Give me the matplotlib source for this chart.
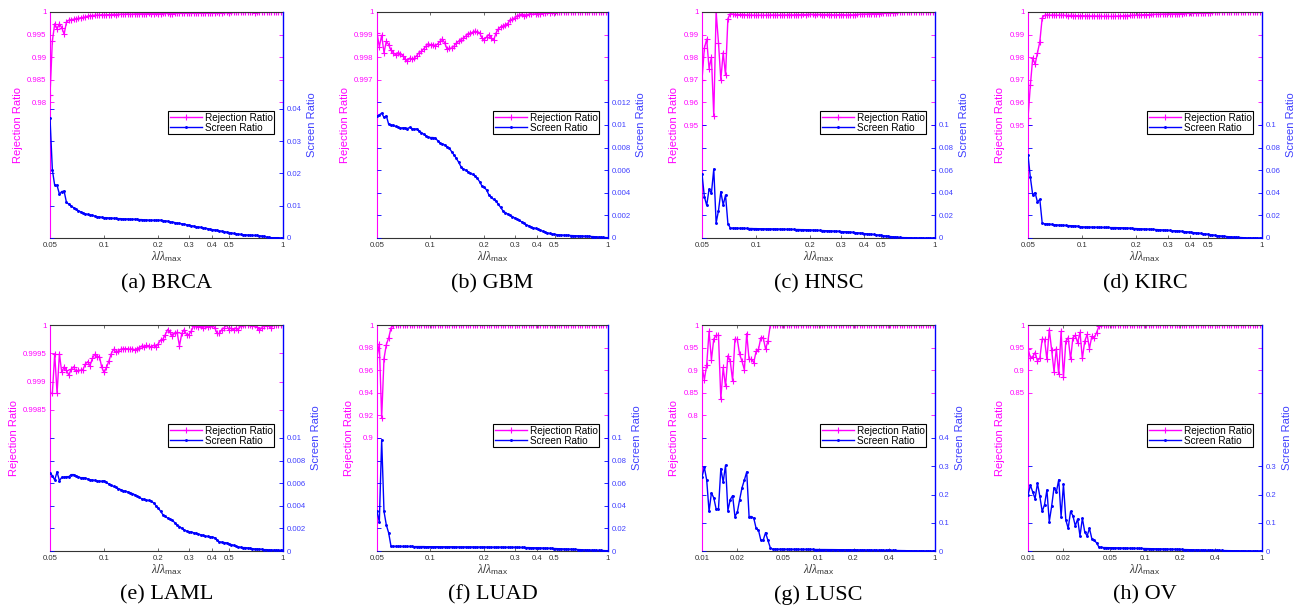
import numpy as np
import matplotlib
matplotlib.use('Agg')
import matplotlib.pyplot as plt
from matplotlib.ticker import NullLocator

plt.rcParams['font.family'] = ['Liberation Sans', 'DejaVu Sans']
plt.rcParams['mathtext.fontset'] = 'custom'
plt.rcParams['mathtext.rm'] = 'Liberation Sans'
plt.rcParams['mathtext.it'] = 'Liberation Serif:italic'

# ---------------- data ----------------
names = ['(a) BRCA', '(b) GBM', '(c) HNSC', '(d) KIRC',
         '(e) LAML', '(f) LUAD', '(g) LUSC', '(h) OV']

lam_a = np.geomspace(0.05, 1.0, 100)   # lambda / lambda_max grid, panels a-f
lam_g = np.geomspace(0.01, 1.0, 100)   # lambda / lambda_max grid, panels g-h

xt_a = [0.05, 0.1, 0.2, 0.3, 0.4, 0.5, 1]
xtl_a = ['0.05', '0.1', '0.2', '0.3', '0.4', '0.5', '1']
xt_g = [0.01, 0.02, 0.05, 0.1, 0.2, 0.4, 1]
xtl_g = ['0.01', '0.02', '0.05', '0.1', '0.2', '0.4', '1']

brca_rej = [0.9816, 0.9936, 0.9974, 0.9963, 0.9974, 0.9965, 0.9951, 0.9978, 0.9982, 0.9983,
            0.9984, 0.9985, 0.9986, 0.9987, 0.9988, 0.9989, 0.9991, 0.9992, 0.9992, 0.9993,
            0.9993, 0.9993, 0.9994, 0.9993, 0.9994, 0.9994, 0.9994, 0.9995, 0.9994, 0.9995,
            0.9995, 0.9995, 0.9995, 0.9996, 0.9995, 0.9995, 0.9996, 0.9996, 0.9996, 0.9996,
            0.9996, 0.9996, 0.9997, 0.9996, 0.9996, 0.9997, 0.9996, 0.9996, 0.9997, 0.9997,
            0.9997, 0.9996, 0.9996, 0.9997, 0.9997, 0.9997, 0.9997, 0.9998, 0.9997, 0.9997,
            0.9998, 0.9997, 0.9998, 0.9998, 0.9998, 0.9998, 0.9998, 0.9998, 0.9998, 0.9998,
            0.9998, 0.9999, 0.9998, 0.9998, 0.9999, 0.9999, 0.9998, 0.9999, 0.9999, 0.9999,
            0.9999, 0.9999, 0.9999, 0.9999, 0.9999, 0.9999, 0.9999, 0.9998, 0.9999, 0.9999,
            1.0, 1.0, 0.9999, 1.0, 1.0, 1.0, 1.0, 1.0, 1.0, 1.0]
brca_scr = [0.0372, 0.0211, 0.0163, 0.0163, 0.0136, 0.0144, 0.0145, 0.0110, 0.0105, 0.0099,
            0.0094, 0.0089, 0.0085, 0.0081, 0.0078, 0.0075, 0.0073, 0.0072, 0.0070, 0.0068,
            0.0066, 0.0065, 0.0064, 0.0063, 0.0063, 0.0062, 0.0062, 0.0061, 0.0061, 0.0060,
            0.0060, 0.0059, 0.0059, 0.0059, 0.0058, 0.0058, 0.0058, 0.0058, 0.0057, 0.0057,
            0.0056, 0.0056, 0.0055, 0.0055, 0.0055, 0.0055, 0.0055, 0.0055, 0.0054, 0.0053,
            0.0052, 0.0050, 0.0049, 0.0048, 0.0046, 0.0045, 0.0044, 0.0043, 0.0041, 0.0040,
            0.0038, 0.0037, 0.0035, 0.0034, 0.0033, 0.0031, 0.0030, 0.0029, 0.0027, 0.0026,
            0.0025, 0.0024, 0.0022, 0.0021, 0.0020, 0.0018, 0.0017, 0.0016, 0.0014, 0.0013,
            0.0012, 0.0011, 0.0010, 0.0010, 0.0009, 0.0009, 0.0008, 0.0008, 0.0008, 0.0007,
            0.0006, 0.0005, 0.0003, 0.0002, 0.0001, 0.0001, 0.0001, 0.0001, 0.0000, 0.0000]

gbm_rej = [0.99907, 0.99846, 0.99897, 0.99820, 0.99870, 0.99856, 0.99830, 0.99820, 0.99810, 0.99820,
           0.99816, 0.99807, 0.99793, 0.99784, 0.99796, 0.99790, 0.99796, 0.99807, 0.99820, 0.99826,
           0.99837, 0.99849, 0.99860, 0.99854, 0.99856, 0.99851, 0.99859, 0.99870, 0.99881, 0.99863,
           0.99837, 0.99840, 0.99840, 0.99849, 0.99863, 0.99870, 0.99878, 0.99885, 0.99893, 0.99903,
           0.99907, 0.99910, 0.99915, 0.99912, 0.99907, 0.99885, 0.99878, 0.99890, 0.99900, 0.99885,
           0.99875, 0.99907, 0.99925, 0.99934, 0.99937, 0.99944, 0.99949, 0.99963, 0.99969, 0.99974,
           0.99981, 0.99987, 0.99991, 0.99984, 0.99987, 0.99990, 0.99993, 0.99999, 0.99993, 0.99990,
           0.99993, 0.99996, 0.99997, 0.99999, 0.99996, 0.99999, 0.99997, 0.99999, 1.0, 0.99999,
           0.99998, 1.0, 1.0, 1.0, 1.0, 0.99999, 1.0, 1.0, 1.0, 1.0,
           1.0, 1.0, 1.0, 1.0, 1.0, 1.0, 1.0, 1.0, 1.0, 1.0]
gbm_scr = [0.01076, 0.01090, 0.01105, 0.01067, 0.01081, 0.01007, 0.01001, 0.00996, 0.00987, 0.00981,
           0.00972, 0.00975, 0.00975, 0.00969, 0.00978, 0.00969, 0.00963, 0.00966, 0.00948, 0.00933,
           0.00919, 0.00904, 0.00892, 0.00889, 0.00889, 0.00883, 0.00862, 0.00839, 0.00833, 0.00824,
           0.00809, 0.00794, 0.00764, 0.00735, 0.00705, 0.00670, 0.00631, 0.00610, 0.00601, 0.00587,
           0.00572, 0.00563, 0.00551, 0.00527, 0.00498, 0.00459, 0.00447, 0.00424, 0.00379, 0.00359,
           0.00341, 0.00326, 0.00299, 0.00270, 0.00240, 0.00225, 0.00212, 0.00200, 0.00190, 0.00178,
           0.00168, 0.00155, 0.00143, 0.00130, 0.00118, 0.00108, 0.00098, 0.00090, 0.00085, 0.00080,
           0.00070, 0.00060, 0.00053, 0.00045, 0.00040, 0.00036, 0.00033, 0.00030, 0.00028, 0.00026,
           0.00025, 0.00024, 0.00023, 0.00022, 0.00021, 0.00020, 0.00019, 0.00018, 0.00017, 0.00016,
           0.00015, 0.00014, 0.00013, 0.00012, 0.00010, 0.00009, 0.00007, 0.00005, 0.00004, 0.00003]

hnsc_rej = [0.970, 0.984, 0.988, 0.975, 0.980, 0.954, 1.000, 0.9865, 0.970, 0.982,
            0.972, 0.997, 0.9993, 0.9990, 0.9989, 0.9988, 0.9989, 0.9988, 0.9988, 0.9987,
            0.9987, 0.9986, 0.9986, 0.9985, 0.9986, 0.9986, 0.9985, 0.9986, 0.9986, 0.9986,
            0.9987, 0.9986, 0.9986, 0.9987, 0.9986, 0.9987, 0.9987, 0.9988, 0.9987, 0.9987,
            0.9988, 0.9988, 0.9988, 0.9989, 0.9988, 0.9989, 0.9989, 0.9989, 0.9988, 0.9989,
            0.9989, 0.9988, 0.9988, 0.9989, 0.9988, 0.9988, 0.9987, 0.9987, 0.9988, 0.9988,
            0.9988, 0.9987, 0.9987, 0.9988, 0.9987, 0.9988, 0.9989, 0.9990, 0.9990, 0.9991,
            0.9991, 0.9992, 0.9992, 0.9993, 0.9993, 0.9993, 0.9994, 0.9994, 0.9995, 0.9994,
            0.9995, 0.9996, 0.9997, 0.9998, 0.9998, 0.9999, 0.9999, 0.9999, 1.0, 0.9999,
            1.0, 1.0, 0.9999, 1.0, 1.0, 1.0, 1.0, 1.0, 1.0, 1.0]
hnsc_scr = [0.0568, 0.0366, 0.0289, 0.0432, 0.0396, 0.0610, 0.0134, 0.0241, 0.0410, 0.0292,
            0.0380, 0.0128, 0.0089, 0.0088, 0.0087, 0.0087, 0.0086, 0.0086, 0.0085, 0.0085,
            0.0084, 0.0084, 0.0083, 0.0083, 0.0082, 0.0082, 0.0082, 0.0081, 0.0081, 0.0081,
            0.0080, 0.0080, 0.0079, 0.0079, 0.0078, 0.0078, 0.0077, 0.0077, 0.0076, 0.0076,
            0.0075, 0.0075, 0.0074, 0.0074, 0.0073, 0.0072, 0.0071, 0.0070, 0.0069, 0.0068,
            0.0067, 0.0066, 0.0065, 0.0064, 0.0063, 0.0062, 0.0061, 0.0060, 0.0059, 0.0057,
            0.0056, 0.0055, 0.0053, 0.0052, 0.0050, 0.0048, 0.0046, 0.0044, 0.0042, 0.0039,
            0.0037, 0.0035, 0.0033, 0.0031, 0.0028, 0.0026, 0.0024, 0.0021, 0.0018, 0.0015,
            0.0013, 0.0011, 0.0009, 0.0007, 0.0005, 0.0004, 0.0003, 0.0003, 0.0002, 0.0002,
            0.0001, 0.0001, 0.0001, 0.0001, 0.0000, 0.0000, 0.0000, 0.0000, 0.0000, 0.0000]

kirc_rej = [0.9530, 0.9676, 0.9797, 0.9768, 0.9819, 0.9868, 0.9974, 0.9985, 0.9987, 0.9986,
            0.9986, 0.9986, 0.9985, 0.9986, 0.9985, 0.9985, 0.9985, 0.9984, 0.9985, 0.9984,
            0.9984, 0.9984, 0.9983, 0.9984, 0.9983, 0.9983, 0.9983, 0.9982, 0.9983, 0.9982,
            0.9982, 0.9982, 0.9981, 0.9982, 0.9981, 0.9981, 0.9981, 0.9982, 0.9982, 0.9983,
            0.9983, 0.9984, 0.9984, 0.9985, 0.9985, 0.9986, 0.9986, 0.9987, 0.9987, 0.9988,
            0.9988, 0.9988, 0.9989, 0.9989, 0.9990, 0.9990, 0.9990, 0.9991, 0.9991, 0.9991,
            0.9992, 0.9992, 0.9992, 0.9993, 0.9993, 0.9993, 0.9994, 0.9994, 0.9994, 0.9995,
            0.9995, 0.9995, 0.9996, 0.9996, 0.9996, 0.9997, 0.9997, 0.9997, 0.9998, 0.9998,
            0.9998, 0.9998, 0.9999, 0.9998, 0.9999, 0.9999, 0.9999, 1.0, 0.9999, 1.0,
            1.0, 1.0, 1.0, 0.9999, 1.0, 1.0, 1.0, 1.0, 1.0, 1.0]
kirc_scr = [0.0735, 0.0536, 0.0381, 0.0402, 0.0318, 0.0342, 0.0134, 0.0125, 0.0124, 0.0122,
            0.0120, 0.0118, 0.0116, 0.0114, 0.0113, 0.0112, 0.0111, 0.0110, 0.0109, 0.0108,
            0.0106, 0.0104, 0.0101, 0.0098, 0.0097, 0.0097, 0.0096, 0.0096, 0.0095, 0.0095,
            0.0094, 0.0094, 0.0093, 0.0093, 0.0093, 0.0092, 0.0092, 0.0092, 0.0091, 0.0091,
            0.0090, 0.0089, 0.0088, 0.0087, 0.0085, 0.0084, 0.0083, 0.0082, 0.0081, 0.0080,
            0.0079, 0.0078, 0.0077, 0.0076, 0.0075, 0.0074, 0.0072, 0.0071, 0.0070, 0.0068,
            0.0067, 0.0065, 0.0064, 0.0062, 0.0061, 0.0059, 0.0057, 0.0055, 0.0053, 0.0050,
            0.0048, 0.0046, 0.0043, 0.0041, 0.0038, 0.0036, 0.0033, 0.0030, 0.0027, 0.0024,
            0.0021, 0.0019, 0.0017, 0.0015, 0.0013, 0.0011, 0.0010, 0.0009, 0.0007, 0.0005,
            0.0004, 0.0003, 0.0002, 0.0001, 0.0001, 0.0001, 0.0000, 0.0000, 0.0000, 0.0000]

laml_rej = [0.99879, 0.99879, 0.99949, 0.99879, 0.99949, 0.99916, 0.99926, 0.99920, 0.99911, 0.99922,
            0.99926, 0.99918, 0.99920, 0.99920, 0.99921, 0.99931, 0.99935, 0.99928, 0.99941, 0.99948,
            0.99944, 0.99944, 0.99925, 0.99916, 0.99925, 0.99936, 0.99949, 0.99957, 0.99952, 0.99954,
            0.99957, 0.99958, 0.99958, 0.99958, 0.99957, 0.99958, 0.99956, 0.99958, 0.99960, 0.99963,
            0.99961, 0.99964, 0.99963, 0.99961, 0.99964, 0.99961, 0.99967, 0.99973, 0.99975, 0.99983,
            0.99992, 0.99987, 0.99980, 0.99986, 0.99987, 0.99963, 0.99985, 0.99992, 0.99983, 0.99983,
            0.99989, 0.99998, 0.99999, 0.99997, 0.99998, 0.99995, 0.99999, 0.99997, 0.99999, 1.0,
            0.99995, 0.99985, 0.99985, 0.99992, 0.99995, 1.0, 0.99992, 0.99995, 0.99991, 0.99995,
            0.99992, 0.99998, 1.0, 1.0, 1.0, 1.0, 0.99999, 1.0, 0.99997, 0.99991,
            0.99995, 0.99999, 0.99998, 1.0, 0.99995, 1.0, 1.0, 1.0, 1.0, 1.0]
laml_scr = [0.00688, 0.00667, 0.00628, 0.00700, 0.00622, 0.00652, 0.00652, 0.00658, 0.00658, 0.00676,
            0.00676, 0.00667, 0.00658, 0.00649, 0.00649, 0.00646, 0.00637, 0.00631, 0.00628, 0.00625,
            0.00619, 0.00619, 0.00616, 0.00622, 0.00607, 0.00592, 0.00583, 0.00571, 0.00562, 0.00553,
            0.00544, 0.00535, 0.00529, 0.00523, 0.00517, 0.00508, 0.00498, 0.00486, 0.00474, 0.00462,
            0.00456, 0.00450, 0.00447, 0.00441, 0.00426, 0.00402, 0.00381, 0.00351, 0.00321, 0.00306,
            0.00291, 0.00282, 0.00270, 0.00252, 0.00231, 0.00216, 0.00201, 0.00186, 0.00177, 0.00171,
            0.00168, 0.00162, 0.00156, 0.00150, 0.00144, 0.00138, 0.00132, 0.00129, 0.00126, 0.00123,
            0.00117, 0.00096, 0.00081, 0.00078, 0.00075, 0.00072, 0.00066, 0.00057, 0.00051, 0.00042,
            0.00036, 0.00033, 0.00030, 0.00030, 0.00027, 0.00024, 0.00021, 0.00018, 0.00018, 0.00015,
            0.00015, 0.00012, 0.00012, 0.00009, 0.00009, 0.00008, 0.00007, 0.00006, 0.00006, 0.00006]

luad_rej = [0.9716, 0.9833, 0.9175, 0.9702, 0.9827, 0.9886, 0.9974, 0.9997, 0.9999, 1.0,
            1.0, 0.9999, 1.0, 1.0, 1.0, 0.9999, 1.0, 1.0, 1.0, 1.0,
            1.0, 1.0, 0.9999, 1.0, 1.0, 1.0, 1.0, 0.9999, 1.0, 1.0,
            1.0, 1.0, 1.0, 1.0, 0.9999, 1.0, 1.0, 1.0, 1.0, 1.0,
            1.0, 0.9999, 1.0, 1.0, 1.0, 1.0, 1.0, 1.0, 0.9999, 1.0,
            1.0, 1.0, 1.0, 1.0, 1.0, 1.0, 0.9999, 1.0, 1.0, 1.0,
            1.0, 1.0, 1.0, 1.0, 1.0, 1.0, 1.0, 1.0, 1.0, 1.0,
            1.0, 1.0, 1.0, 1.0, 1.0, 1.0, 1.0, 1.0, 1.0, 1.0,
            1.0, 1.0, 1.0, 1.0, 1.0, 1.0, 1.0, 1.0, 1.0, 1.0,
            1.0, 1.0, 1.0, 1.0, 1.0, 1.0, 1.0, 1.0, 1.0, 1.0]
luad_scr = [0.0350, 0.0257, 0.0985, 0.0350, 0.0230, 0.0160, 0.0042, 0.0041, 0.0041, 0.0041,
            0.0041, 0.0040, 0.0040, 0.0040, 0.0040, 0.0040, 0.0039, 0.0039, 0.0039, 0.0039,
            0.0039, 0.0038, 0.0038, 0.0038, 0.0038, 0.0038, 0.0038, 0.0037, 0.0037, 0.0037,
            0.0037, 0.0037, 0.0037, 0.0037, 0.0036, 0.0036, 0.0036, 0.0036, 0.0036, 0.0036,
            0.0036, 0.0036, 0.0035, 0.0035, 0.0035, 0.0035, 0.0035, 0.0035, 0.0035, 0.0034,
            0.0034, 0.0034, 0.0034, 0.0034, 0.0034, 0.0033, 0.0033, 0.0033, 0.0033, 0.0033,
            0.0032, 0.0032, 0.0031, 0.0031, 0.0030, 0.0030, 0.0029, 0.0029, 0.0028, 0.0028,
            0.0027, 0.0026, 0.0025, 0.0025, 0.0024, 0.0023, 0.0022, 0.0021, 0.0020, 0.0019,
            0.0018, 0.0017, 0.0016, 0.0016, 0.0015, 0.0014, 0.0013, 0.0012, 0.0011, 0.0010,
            0.0009, 0.0008, 0.0008, 0.0007, 0.0006, 0.0005, 0.0005, 0.0004, 0.0003, 0.0003]

lusc_rej = [0.908, 0.879, 0.912, 0.986, 0.923, 0.969, 0.977, 0.977, 0.8365, 0.906,
            0.864, 0.932, 0.920, 0.877, 0.969, 0.968, 0.935, 0.920, 0.901, 0.981,
            0.924, 0.924, 0.917, 0.942, 0.946, 0.972, 0.972, 0.947, 0.964, 0.9995,
            0.9993, 0.9994, 0.9994, 0.9995, 0.9994, 0.9995, 0.9995, 0.9994, 0.9995, 0.9995,
            0.9995, 0.9996, 0.9995, 0.9995, 0.9996, 0.9996, 0.9995, 0.9996, 0.9996, 0.9996,
            0.9996, 0.9996, 0.9997, 0.9996, 0.9996, 0.9997, 0.9997, 0.9997, 0.9997, 0.9997,
            0.9997, 0.9997, 0.9998, 0.9997, 0.9998, 0.9998, 0.9998, 0.9998, 0.9998, 0.9998,
            0.9998, 0.9998, 0.9999, 0.9998, 0.9999, 0.9999, 0.9999, 0.9999, 0.9999, 0.9999,
            0.9999, 0.9999, 0.9999, 0.9999, 0.9999, 1.0, 0.9999, 1.0, 1.0, 1.0,
            1.0, 1.0, 1.0, 1.0, 1.0, 1.0, 1.0, 1.0, 1.0, 1.0]
lusc_scr = [0.262, 0.296, 0.251, 0.140, 0.206, 0.188, 0.149, 0.149, 0.292, 0.244,
            0.304, 0.143, 0.182, 0.196, 0.122, 0.137, 0.182, 0.224, 0.251, 0.280,
            0.122, 0.122, 0.116, 0.080, 0.074, 0.038, 0.038, 0.065, 0.038, 0.012,
            0.0065, 0.0063, 0.0062, 0.0061, 0.0060, 0.0060, 0.0059, 0.0059, 0.0058, 0.0058,
            0.0057, 0.0057, 0.0056, 0.0056, 0.0055, 0.0055, 0.0054, 0.0054, 0.0053, 0.0053,
            0.0052, 0.0051, 0.0051, 0.0050, 0.0049, 0.0049, 0.0048, 0.0047, 0.0046, 0.0045,
            0.0045, 0.0044, 0.0043, 0.0042, 0.0041, 0.0040, 0.0039, 0.0038, 0.0037, 0.0036,
            0.0035, 0.0034, 0.0033, 0.0032, 0.0030, 0.0029, 0.0028, 0.0026, 0.0025, 0.0023,
            0.0022, 0.0020, 0.0019, 0.0017, 0.0016, 0.0014, 0.0013, 0.0011, 0.0010, 0.0009,
            0.0008, 0.0007, 0.0006, 0.0005, 0.0004, 0.0003, 0.0002, 0.0002, 0.0001, 0.0001]

ov_rej = [0.9476, 0.928, 0.930, 0.939, 0.921, 0.926, 0.969, 0.968, 0.924, 0.990,
          0.945, 0.897, 0.948, 0.891, 0.986, 0.884, 0.964, 0.972, 0.924, 0.972,
          0.977, 0.961, 0.984, 0.926, 0.964, 0.979, 0.948, 0.975, 0.972, 0.983,
          0.997, 0.9990, 0.9991, 0.9991, 0.9992, 0.9991, 0.9992, 0.9992, 0.9993, 0.9992,
          0.9993, 0.9993, 0.9993, 0.9994, 0.9993, 0.9994, 0.9994, 0.9994, 0.9995, 0.9994,
          0.9995, 0.9995, 0.9995, 0.9995, 0.9996, 0.9995, 0.9996, 0.9996, 0.9996, 0.9996,
          0.9996, 0.9997, 0.9996, 0.9997, 0.9997, 0.9997, 0.9997, 0.9997, 0.9998, 0.9997,
          0.9998, 0.9998, 0.9998, 0.9998, 0.9998, 0.9998, 0.9999, 0.9998, 0.9999, 0.9999,
          0.9999, 0.9999, 0.9999, 0.9999, 0.9999, 0.9999, 1.0, 0.9999, 1.0, 1.0,
          1.0, 1.0, 1.0, 1.0, 1.0, 1.0, 1.0, 1.0, 1.0, 1.0]
ov_scr = [0.197, 0.233, 0.209, 0.185, 0.240, 0.194, 0.140, 0.164, 0.216, 0.104,
          0.158, 0.224, 0.209, 0.252, 0.122, 0.236, 0.110, 0.080, 0.140, 0.125,
          0.089, 0.113, 0.053, 0.116, 0.068, 0.053, 0.080, 0.044, 0.038, 0.029,
          0.014, 0.0125, 0.0122, 0.0120, 0.0118, 0.0116, 0.0114, 0.0112, 0.0110, 0.0108,
          0.0106, 0.0104, 0.0102, 0.0100, 0.0098, 0.0096, 0.0094, 0.0092, 0.0090, 0.0088,
          0.0086, 0.0084, 0.0082, 0.0080, 0.0078, 0.0076, 0.0074, 0.0072, 0.0070, 0.0068,
          0.0065, 0.0063, 0.0061, 0.0058, 0.0056, 0.0054, 0.0051, 0.0049, 0.0047, 0.0044,
          0.0042, 0.0040, 0.0038, 0.0036, 0.0034, 0.0032, 0.0030, 0.0028, 0.0026, 0.0024,
          0.0022, 0.0020, 0.0018, 0.0016, 0.0014, 0.0012, 0.0011, 0.0010, 0.0009, 0.0008,
          0.0007, 0.0006, 0.0005, 0.0004, 0.0003, 0.0002, 0.0002, 0.0001, 0.0001, 0.0001]

# left-axis (rejection) and right-axis (screen) tick values and labels
lt_a = [0.98, 0.985, 0.99, 0.995, 1];      ltl_a = ['0.98', '0.985', '0.99', '0.995', '1']
rt_a = [0, 0.01, 0.02, 0.03, 0.04];        rtl_a = ['0', '0.01', '0.02', '0.03', '0.04']
lt_b = [0.997, 0.998, 0.999, 1];           ltl_b = ['0.997', '0.998', '0.999', '1']
rt_b = [0, 0.002, 0.004, 0.006, 0.008, 0.01, 0.012]
rtl_b = ['0', '0.002', '0.004', '0.006', '0.008', '0.01', '0.012']
lt_c = [0.95, 0.96, 0.97, 0.98, 0.99, 1];  ltl_c = ['0.95', '0.96', '0.97', '0.98', '0.99', '1']
rt_c = [0, 0.02, 0.04, 0.06, 0.08, 0.1];   rtl_c = ['0', '0.02', '0.04', '0.06', '0.08', '0.1']
lt_e = [0.9985, 0.999, 0.9995, 1];         ltl_e = ['0.9985', '0.999', '0.9995', '1']
rt_e = [0, 0.002, 0.004, 0.006, 0.008, 0.01]
rtl_e = ['0', '0.002', '0.004', '0.006', '0.008', '0.01']
lt_f = [0.9, 0.92, 0.94, 0.96, 0.98, 1];   ltl_f = ['0.9', '0.92', '0.94', '0.96', '0.98', '1']
lt_g = [0.8, 0.85, 0.9, 0.95, 1];          ltl_g = ['0.8', '0.85', '0.9', '0.95', '1']
rt_g = [0, 0.1, 0.2, 0.3, 0.4];            rtl_g = ['0', '0.1', '0.2', '0.3', '0.4']
lt_h = [0.85, 0.9, 0.95, 1];               ltl_h = ['0.85', '0.9', '0.95', '1']
rt_h = [0, 0.1, 0.2, 0.3];                 rtl_h = ['0', '0.1', '0.2', '0.3']

panels = [
    (lam_a, brca_rej, brca_scr, (0.95, 1), (0, 0.07), lt_a, ltl_a, rt_a, rtl_a, xt_a, xtl_a),
    (lam_a, gbm_rej, gbm_scr, (0.99, 1), (0, 0.02), lt_b, ltl_b, rt_b, rtl_b, xt_a, xtl_a),
    (lam_a, hnsc_rej, hnsc_scr, (0.9, 1), (0, 0.2), lt_c, ltl_c, rt_c, rtl_c, xt_a, xtl_a),
    (lam_a, kirc_rej, kirc_scr, (0.9, 1), (0, 0.2), lt_c, ltl_c, rt_c, rtl_c, xt_a, xtl_a),
    (lam_a, laml_rej, laml_scr, (0.996, 1), (0, 0.02), lt_e, ltl_e, rt_e, rtl_e, xt_a, xtl_a),
    (lam_a, luad_rej, luad_scr, (0.8, 1), (0, 0.2), lt_f, ltl_f, rt_c, rtl_c, xt_a, xtl_a),
    (lam_g, lusc_rej, lusc_scr, (0.5, 1), (0, 0.8), lt_g, ltl_g, rt_g, rtl_g, xt_g, xtl_g),
    (lam_g, ov_rej, ov_scr, (0.5, 1), (0, 0.8), lt_h, ltl_h, rt_h, rtl_h, xt_g, xtl_g),
]

# ---------------- layout ----------------
W, H = 1297, 607
fig = plt.figure(figsize=(W / 100, H / 100), dpi=100)
MAG = (1.0, 0.0, 1.0)
BLU = (0.0, 0.0, 1.0)
BLU_T = (0.25, 0.25, 1.0)
GRAY = '#333333'

cols = [(50, 283), (377, 608), (702, 935), (1028, 1262)]
rows = [(12, 238), (325, 551)]
cap_y = [284, 595]
TS = 5.6

for k, (x, rej, scr, yl, yr, lt, ltl, rt, rtl, xt, xtl) in enumerate(panels):
    r, c = divmod(k, 4)
    l, rr = cols[c]
    t, b = rows[r]
    ax = fig.add_axes([l / W, 1 - b / H, (rr - l) / W, (b - t) / H])
    ax.set_xscale('log')
    ax.set_xlim(x[0], x[-1])
    l1, = ax.plot(x, rej, color=MAG, lw=1.0, marker='+', ms=4, mew=0.8)
    ax.set_ylim(*yl)
    ax2 = ax.twinx()
    l2, = ax2.plot(x, scr, color=BLU, lw=1.0, marker='.', ms=2.2)
    ax2.set_ylim(*yr)

    ax.set_xticks(xt)
    ax.set_xticklabels(xtl)
    ax.xaxis.set_minor_locator(NullLocator())
    ax.tick_params(axis='x', which='both', direction='in', top=True, length=2,
                   width=0.5, labelsize=TS, labelcolor=GRAY, color=GRAY, pad=3)
    ax.set_yticks(lt)
    ax.set_yticklabels(ltl)
    ax.yaxis.set_minor_locator(NullLocator())
    ax.tick_params(axis='y', direction='in', right=True, length=3, width=0.6,
                   labelsize=TS, colors=MAG, pad=2.5)
    ax2.set_yticks(rt)
    ax2.set_yticklabels(rtl)
    ax2.yaxis.set_minor_locator(NullLocator())
    ax2.tick_params(axis='y', direction='in', left=True, length=3, width=0.6,
                    labelsize=TS, color=BLU, labelcolor=BLU_T, pad=2.5)

    for s in ['left', 'top', 'bottom']:
        ax2.spines[s].set_visible(False)
    ax.spines['right'].set_visible(False)
    ax.spines['left'].set_color(MAG)
    ax2.spines['right'].set_color(BLU)
    ax.spines['top'].set_color(GRAY)
    ax.spines['bottom'].set_color(GRAY)
    for s in ax.spines.values():
        s.set_linewidth(0.8)
    ax2.spines['right'].set_linewidth(1.0)

    ax.set_ylabel('Rejection Ratio', color=MAG, fontsize=8, labelpad=3)
    ax2.set_ylabel('Screen Ratio', color=BLU_T, fontsize=8, labelpad=4)
    ax.set_xlabel(r'$\mathit{\lambda}/\mathit{\lambda}_{\mathrm{max}}$', color=GRAY,
                  fontsize=8.5, labelpad=0)

    leg = ax2.legend([l1, l2], ['Rejection Ratio', 'Screen Ratio'], loc='center right',
                     bbox_to_anchor=(0.962, 0.51), fontsize=7.2, frameon=True,
                     fancybox=False, edgecolor='k', framealpha=1, borderpad=0.15,
                     labelspacing=0.0, handlelength=3.2, handletextpad=0.3,
                     borderaxespad=0, numpoints=1)
    leg.get_frame().set_linewidth(0.8)

    fig.text((l + rr) / 2 / W, 1 - cap_y[r] / H, names[k], ha='center', va='center',
             fontsize=16, family='Liberation Serif')

fig.savefig('out.png', dpi=100)
